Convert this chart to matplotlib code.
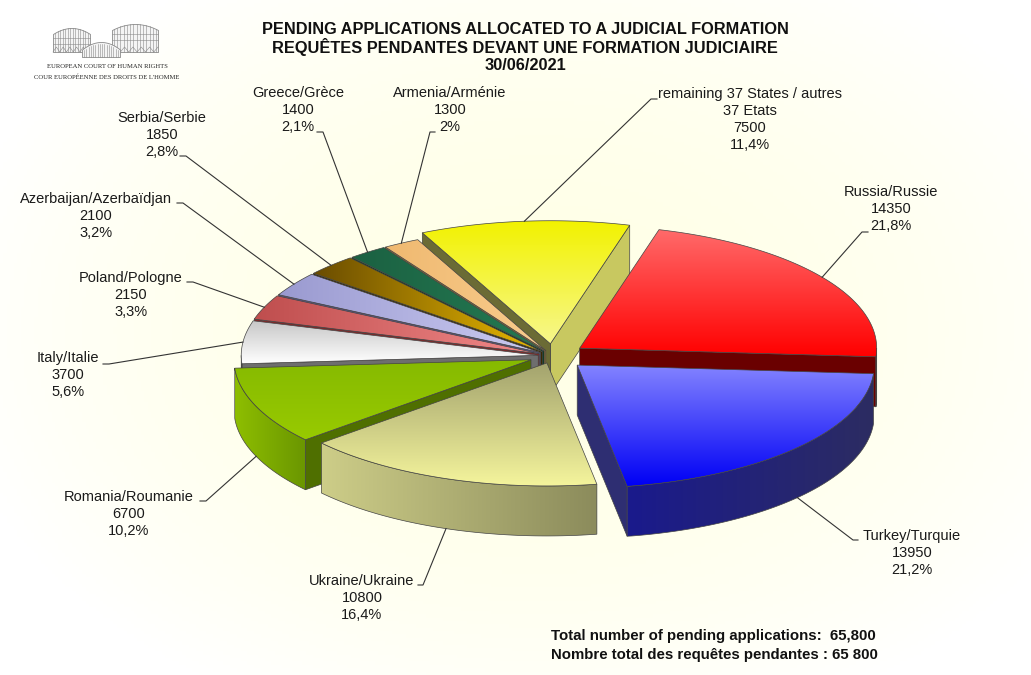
import numpy as np
import matplotlib.pyplot as plt
from matplotlib.patches import Polygon
from matplotlib.colors import to_rgb

plt.rcParams['font.family'] = ['Liberation Sans', 'DejaVu Sans']

# Data (order: counter-clockwise from the east)
countries = ['Russia/Russie', 'remaining 37 States / autres\n37 Etats', 'Armenia/Arménie',
             'Greece/Grèce', 'Serbia/Serbie', 'Azerbaijan/Azerbaïdjan', 'Poland/Pologne',
             'Italy/Italie', 'Romania/Roumanie', 'Ukraine/Ukraine', 'Turkey/Turquie']
applications = [14350, 7500, 1300, 1400, 1850, 2100, 2150, 3700, 6700, 10800, 13950]
percent_labels = ['21,8%', '11,4%', '2%', '2,1%', '2,8%', '3,2%', '3,3%', '5,6%', '10,2%', '16,4%', '21,2%']

title_lines = ['PENDING APPLICATIONS ALLOCATED TO A JUDICIAL FORMATION',
               'REQUÊTES PENDANTES DEVANT UNE FORMATION JUDICIAIRE',
               '30/06/2021']
total_lines = ['Total number of pending applications:  65,800',
               'Nombre total des requêtes pendantes : 65 800']
logo_lines = ['EUROPEAN COURT OF HUMAN RIGHTS', "COUR EUROPÉENNE DES DROITS DE L'HOMME"]

# Pie geometry (pixel space, y down)
CX, CY = 553, 356
RX, RY = 297, 123
DEPTH = 50
START = -4
explode = [0.11, 0.1, 0.05, 0.05, 0.05, 0.05, 0.05, 0.05, 0.08, 0.06, 0.11]

# Styles: (top colour 1, top colour 2, horizontal?), wall colours, radial face colours
top_style = [('#FF6A6A', '#FF0000', False), ('#F2F200', '#F7F78C', False),
             ('#F0B970', '#F8CC8E', True), ('#1B6142', '#247A52', True),
             ('#6A4C00', '#E8B800', True), ('#9A9AD0', '#CBCBF2', True),
             ('#BF4E4E', '#F28A8A', True), ('#C8C8C8', '#FFFFFF', False),
             ('#86BA00', '#98CA00', False), ('#A3A36E', '#F4F49C', False),
             ('#8484FF', '#0000F5', False)]
wall_style = [('#8A0000', '#5E0000'), ('#D8D860', '#B0B040'), ('#C8985A', '#B08040'),
              ('#1B6142', '#0C3A24'), ('#6A4C00', '#3A2A00'), ('#8A8AC0', '#5A5A8C'),
              ('#C05050', '#A04040'), ('#E6E6E6', '#C4C4C4'), ('#8EBE00', '#6A9600'),
              ('#CDCD88', '#8C8C5C'), ('#1A1A8C', '#2C2C62')]
side_start = ['#6A0000', '#C8C860', '#A07838', '#0C3A24', '#3A2A00', '#5A5A8C',
              '#7E2A2A', '#6E6E6E', '#4F6F00', '#8C8C5C', '#2E2E72']
side_end = ['#6A0000', '#6B6B35', '#A07838', '#0C3A24', '#3A2A00', '#5A5A8C',
            '#7E2A2A', '#6E6E6E', '#4F6F00', '#8C8C5C', '#2E2E72']

# Label layout: centre x, first line y, leader end near the text, elbow
label_pos = [(891, 192), (750, 94), (450, 93), (298, 93), (162, 118), (96, 199),
             (131, 278), (68, 358), (129, 497), (362, 581), (912, 536)]
leader_end = [(868, 232), (657, 99), (435, 132), (317, 132), (180, 156), (177, 203),
              (187, 282), (103, 364), (200, 501), (418, 585), (858, 540)]
leader_elbow = [(862, 232), (651, 99), (430, 132), (323, 132), (186, 156), (183, 203),
                (193, 282), (109, 364), (206, 501), (423, 585), (853, 540)]

EDGE = '#444444'


def grad_fill(ax, pts, c1, c2, horizontal, z):
    pts = np.asarray(pts)
    poly = Polygon(pts, closed=True, facecolor='none', edgecolor='none', zorder=z)
    ax.add_patch(poly)
    x0, y0 = pts.min(axis=0)
    x1, y1 = pts.max(axis=0)
    t = np.linspace(0, 1, 64)[:, None]
    cols = np.array(to_rgb(c1))[None, :] * (1 - t) + np.array(to_rgb(c2))[None, :] * t
    img = cols[None, :, :] if horizontal else cols[:, None, :]
    im = ax.imshow(img, extent=(x0, x1 + 0.01, y1 + 0.01, y0), origin='upper',
                   aspect='auto', interpolation='bilinear', zorder=z)
    im.set_clip_path(poly)
    ax.add_patch(Polygon(pts, closed=True, facecolor='none', edgecolor=EDGE,
                         lw=0.5, zorder=z + 0.01))


def flat_fill(ax, pts, color, z):
    ax.add_patch(Polygon(pts, closed=True, facecolor=color, edgecolor=EDGE,
                         lw=0.5, zorder=z))


def arc(ecx, ecy, a1, a2, drop=0.0, n=80):
    th = np.radians(np.linspace(a1, a2, n))
    return np.column_stack([ecx + RX * np.cos(th), ecy - RY * np.sin(th) + drop])


fig = plt.figure(figsize=(10.31, 6.75), dpi=100)
ax = fig.add_axes([0, 0, 1, 1])
ax.axis('off')

# soft cream background
gx, gy = np.meshgrid(np.linspace(0, 1031, 300), np.linspace(0, 675, 200))
rr = np.clip(np.hypot((gx - 540) / 600, (gy - 330) / 420), 0, 1)
cream = np.array([1.0, 1.0, 0.905])
bg = cream[None, None, :] * (1 - rr[..., None] ** 2) + np.ones(3) * rr[..., None] ** 2
ax.imshow(bg, extent=(0, 1031, 675, 0), origin='upper', aspect='auto', zorder=0)

values = np.array(applications, dtype=float)
bounds = START + 360 * np.concatenate([[0], np.cumsum(values) / values.sum()])
mids = (bounds[:-1] + bounds[1:]) / 2

centres = []
for i, m in enumerate(mids):
    r = np.radians(m)
    centres.append((CX + explode[i] * RX * np.cos(r), CY - explode[i] * RY * np.sin(r)))

# paint slices from back to front
order = np.argsort(-np.sin(np.radians(mids)))
z = 2
for i in order:
    a1, a2 = bounds[i], bounds[i + 1]
    ecx, ecy = centres[i]
    # radial faces
    for ang, col, vis in [(a1, side_start[i], np.cos(np.radians(a1)) > 0),
                          (a2, side_end[i], np.cos(np.radians(a2)) < 0)]:
        if vis:
            p = arc(ecx, ecy, ang, ang, n=1)[0]
            face = [(ecx, ecy), p, (p[0], p[1] + DEPTH), (ecx, ecy + DEPTH)]
            flat_fill(ax, face, col, z)
            z += 0.1
    # outer wall (front half only)
    for k in (-360, 0, 360):
        lo, hi = max(a1, 180 + k), min(a2, 360 + k)
        if hi > lo:
            top = arc(ecx, ecy, lo, hi)
            bot = arc(ecx, ecy, hi, lo, drop=DEPTH)
            grad_fill(ax, np.vstack([top, bot]), wall_style[i][0], wall_style[i][1], True, z)
            z += 0.1
    # top face
    pts = np.vstack([[(ecx, ecy)], arc(ecx, ecy, a1, a2)])
    c1, c2, hz = top_style[i]
    grad_fill(ax, pts, c1, c2, hz, z)
    z += 0.1

# labels with leader lines
for i in range(len(values)):
    m = np.radians(mids[i])
    ecx, ecy = centres[i]
    ax_x = ecx + RX * np.cos(m)
    ax_y = ecy - RY * np.sin(m) + (DEPTH if np.sin(m) < 0 else 0)
    ex, ey = leader_elbow[i]
    tx, ty = leader_end[i]
    ax.plot([ax_x, ex, tx], [ax_y, ey, ty], color='#333333', lw=0.8, zorder=50)
    lines = countries[i].split('\n') + [f'{applications[i]}', percent_labels[i]]
    x0, y0 = label_pos[i]
    for j, line in enumerate(lines):
        ax.text(x0, y0 + j * 17, line, ha='center', va='center', fontsize=10.5,
                color='#1A1A1A', zorder=51)

# title
for j, line in enumerate(title_lines):
    ax.text(525, 30 + j * 17.5, line, ha='center', va='center', fontsize=11.8,
            fontweight='bold', color='#111111', zorder=51)

# totals
for j, line in enumerate(total_lines):
    ax.text(551, 636 + j * 19, line, ha='left', va='center', fontsize=10.8,
            fontweight='bold', color='#111111', zorder=51)

# court logo (simple sketch)
lg = '#8A8A8A'
for (xa, xb, ytop, ybot) in [(53, 90, 28, 52), (112, 158, 24, 52)]:
    xs = np.linspace(xa, xb, 40)
    yt = ytop + 6 * ((xs - (xa + xb) / 2) / ((xb - xa) / 2)) ** 2
    ax.fill_between(xs, yt, ybot, color='#F4F4F4', ec=lg, lw=0.6, zorder=52)
    for xv in np.linspace(xa + 2, xb - 2, 14):
        yv = ytop + 6 * ((xv - (xa + xb) / 2) / ((xb - xa) / 2)) ** 2
        ax.plot([xv, xv], [yv, ybot], color=lg, lw=0.4, zorder=53)
    for yh in (ytop + 10, ytop + 16):
        ax.plot([xa, xb], [yh, yh], color=lg, lw=0.4, zorder=53)
    zx = np.linspace(xa, xb, 12)
    ax.plot(zx, np.where(np.arange(12) % 2 == 0, ybot, ybot - 5), color=lg, lw=0.4, zorder=53)
xs = np.linspace(82, 120, 40)
yd = 42 + 7.5 * ((xs - 101) / 19) ** 2
ax.fill_between(xs, yd, 57, color='#F4F4F4', ec=lg, lw=0.6, zorder=54)
for xv in np.linspace(84, 118, 16):
    ax.plot([xv, xv], [42 + 7.5 * ((xv - 101) / 19) ** 2 + 2, 57], color=lg, lw=0.4, zorder=55)
for j, line in enumerate(logo_lines):
    ax.text(107, 66 + j * 11, line, ha='center', va='center', fontsize=4.8,
            family=['Liberation Serif', 'DejaVu Serif'], color='#222222', zorder=53)

ax.set_xlim(0, 1031)
ax.set_ylim(675, 0)
fig.savefig('out.png', dpi=100)
